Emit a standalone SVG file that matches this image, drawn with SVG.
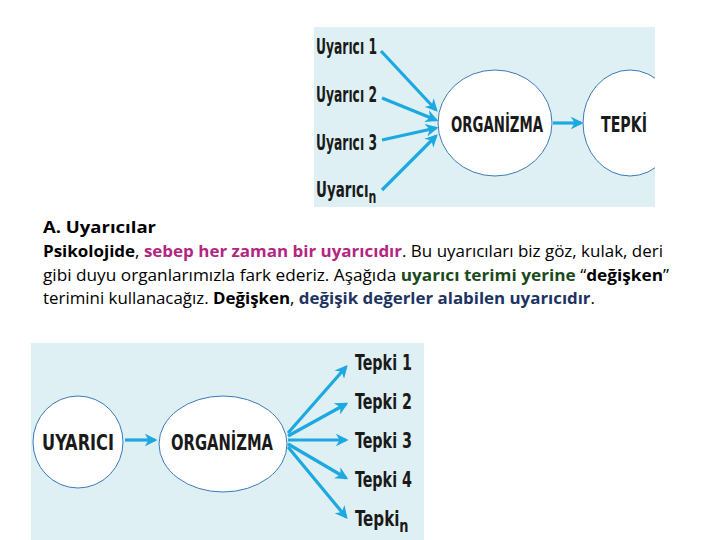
<svg xmlns="http://www.w3.org/2000/svg" width="720" height="540" viewBox="0 0 720 540">
<defs>
<style>
.panel{fill:#dff0f5}
.node{fill:#ffffff;stroke:#3a7ab8;stroke-width:1}
.lbl{font-family:"Liberation Sans Narrow","DejaVu Sans Condensed","Liberation Sans",sans-serif;font-weight:bold;fill:#1a1a1a}
.con{stroke:#1ca8e0;stroke-width:3.2;fill:none;marker-end:url(#ah)}
.body{font-family:"Open Sans","Liberation Sans",sans-serif;font-size:16.5px;fill:#000}
.b{font-weight:bold}
.mag{fill:#b3267f;font-weight:bold}
.grn{fill:#1b4a1b;font-weight:bold}
.nav{fill:#1d3461;font-weight:bold}
</style>
<marker id="ah" viewBox="0 0 10 10" refX="8" refY="5" markerWidth="4" markerHeight="4" orient="auto" markerUnits="strokeWidth">
<path d="M0,0 L10,5 L0,10 L3,5 Z" fill="#1ca8e0"/>
</marker>
<clipPath id="topclip"><rect x="314" y="27" width="341" height="180"/></clipPath>
</defs>

<!-- Top panel -->
<rect class="panel" x="314" y="27" width="341" height="180"/>
<g clip-path="url(#topclip)">
<g id="organizma1"><ellipse class="node" cx="495" cy="123" rx="57" ry="53"/>
<text class="lbl" x="497" y="132" font-size="22" text-anchor="middle" textLength="92" lengthAdjust="spacingAndGlyphs">ORGANİZMA</text></g>
<g id="tepki1"><ellipse class="node" cx="630" cy="123" rx="47" ry="53"/>
<text class="lbl" x="624" y="132" font-size="22" text-anchor="middle" textLength="46" lengthAdjust="spacingAndGlyphs">TEPKİ</text></g>
</g>
<g id="uyarici-labels">
<g id="u1"><text class="lbl" x="316" y="54" font-size="22" textLength="61" lengthAdjust="spacingAndGlyphs">Uyarıcı 1</text></g>
<g id="u2"><text class="lbl" x="316" y="102" font-size="22" textLength="61" lengthAdjust="spacingAndGlyphs">Uyarıcı 2</text></g>
<g id="u3"><text class="lbl" x="316" y="150" font-size="22" textLength="61" lengthAdjust="spacingAndGlyphs">Uyarıcı 3</text></g>
<g id="un"><text class="lbl" transform="translate(316,197) scale(0.68,1)" x="0" y="0" font-size="22">Uyarıcı<tspan dy="6" font-size="18">n</tspan></text></g>
</g>
<g id="connectors-top">
<line class="con" x1="381" y1="51" x2="436" y2="110"/>
<line class="con" x1="382" y1="98" x2="436" y2="120"/>
<line class="con" x1="382" y1="140" x2="436" y2="128"/>
<line class="con" x1="382" y1="190" x2="436" y2="136"/>
<line class="con" x1="553" y1="123" x2="581" y2="123"/>
</g>

<!-- Text -->
<g id="text-block">
<text class="body b" x="43" y="233" textLength="113" lengthAdjust="spacingAndGlyphs">A. Uyarıcılar</text>
<text class="body" x="43" y="257" textLength="620" lengthAdjust="spacingAndGlyphs"><tspan class="b">Psikolojide</tspan>, <tspan class="mag">sebep her zaman bir uyarıcıdır</tspan>. Bu uyarıcıları biz göz, kulak, deri</text>
<text class="body" x="43" y="281" textLength="626" lengthAdjust="spacingAndGlyphs">gibi duyu organlarımızla fark ederiz. Aşağıda <tspan class="grn">uyarıcı terimi yerine</tspan> “<tspan class="b">değişken</tspan>”</text>
<text class="body" x="43" y="304" textLength="552" lengthAdjust="spacingAndGlyphs">terimini kullanacağız. <tspan class="b">Değişken</tspan>, <tspan class="nav">değişik değerler alabilen uyarıcıdır</tspan>.</text>
</g>

<!-- Bottom panel -->
<rect class="panel" x="31" y="343" width="393" height="197"/>
<g id="uyarici"><ellipse class="node" cx="78" cy="442" rx="45" ry="46"/>
<text class="lbl" x="78" y="450" font-size="22" text-anchor="middle" textLength="72" lengthAdjust="spacingAndGlyphs">UYARICI</text></g>
<g id="organizma2"><ellipse class="node" cx="223" cy="444" rx="64" ry="48"/>
<text class="lbl" x="222" y="450" font-size="22" text-anchor="middle" textLength="102" lengthAdjust="spacingAndGlyphs">ORGANİZMA</text></g>
<g id="tepki-labels">
<g id="t1"><text class="lbl" x="355" y="370" font-size="21" textLength="57" lengthAdjust="spacingAndGlyphs">Tepki 1</text></g>
<g id="t2"><text class="lbl" x="355" y="409" font-size="21" textLength="57" lengthAdjust="spacingAndGlyphs">Tepki 2</text></g>
<g id="t3"><text class="lbl" x="355" y="448" font-size="21" textLength="57" lengthAdjust="spacingAndGlyphs">Tepki 3</text></g>
<g id="t4"><text class="lbl" x="355" y="487" font-size="21" textLength="57" lengthAdjust="spacingAndGlyphs">Tepki 4</text></g>
<g id="tn"><text class="lbl" transform="translate(355,526) scale(0.8,1)" x="0" y="0" font-size="21">Tepki<tspan dy="6" font-size="18">n</tspan></text></g>
</g>
<g id="connectors-bottom">
<line class="con" x1="125" y1="440" x2="155" y2="440"/>
<line class="con" x1="288" y1="433" x2="346" y2="367"/>
<line class="con" x1="288" y1="436" x2="346" y2="404"/>
<line class="con" x1="288" y1="440" x2="346" y2="440"/>
<line class="con" x1="288" y1="444" x2="346" y2="478"/>
<line class="con" x1="288" y1="447" x2="346" y2="517"/>
</g>
</svg>
